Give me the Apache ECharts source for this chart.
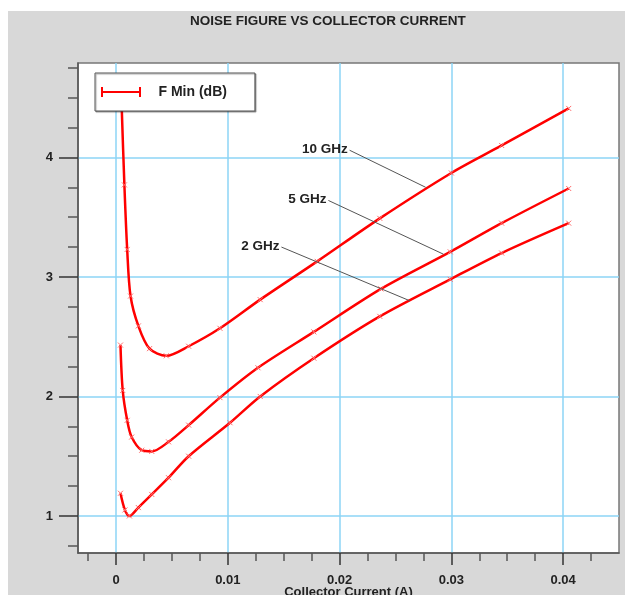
<!DOCTYPE html>
<html>
<head>
<meta charset="utf-8">
<script src="https://cdn.jsdelivr.net/npm/echarts@6/dist/echarts.min.js"></script>
<style>
  html, body { margin: 0; padding: 0; background: #ffffff; }
  #panel { position: absolute; left: 8px; top: 11px; width: 617px; height: 584px; background: #d8d8d8; }
  #chart { position: absolute; left: 0; top: 0; width: 625px; height: 595px; }
</style>
</head>
<body>
<div id="panel"></div>
<div id="chart"></div>
<script>
// Minimum noise figure (dB) against collector current (A), one curve per frequency
const current10GHz = [0.0005, 0.00075, 0.001, 0.0013, 0.002, 0.003, 0.0045, 0.0065, 0.0093, 0.0129, 0.018, 0.0236, 0.030, 0.0345, 0.0405];
const fmin10GHz    = [4.45,   3.77,    3.23,  2.84,   2.59,  2.40,  2.34,   2.42,   2.57,   2.81,   3.13,  3.49,   3.87,  4.10,   4.41];

const current5GHz  = [0.0004, 0.0006, 0.001, 0.0014, 0.0023, 0.0032, 0.0047, 0.0065, 0.0093, 0.0127, 0.0177, 0.0237, 0.0299, 0.0345, 0.0405];
const fmin5GHz     = [2.43,   2.05,   1.80,  1.66,   1.55,   1.54,   1.62,   1.76,   1.99,   2.24,   2.54,   2.90,   3.21,   3.45,   3.74];

const current2GHz  = [0.0004, 0.0008, 0.0012, 0.002, 0.0032, 0.0047, 0.0065, 0.0102, 0.0129, 0.0177, 0.0236, 0.0299, 0.0345, 0.0405];
const fmin2GHz     = [1.19,   1.05,   1.00,   1.07,  1.18,   1.32,   1.50,   1.78,   2.00,   2.32,   2.67,   2.98,   3.20,   3.45];

const xTickValues = [0, 0.01, 0.02, 0.03, 0.04];
const yTickValues = [1, 2, 3, 4];

const titleText = 'NOISE FIGURE VS COLLECTOR CURRENT';
const seriesName = 'F Min (dB)';
const xAxisName = 'Collector Current (A)';

// Frequency callouts: label text, leader start (near the text) and end (on the curve)
const callouts = {
  '10 GHz': { from: [0.0209, 4.06], to: [0.0277, 3.75] },
  '5 GHz':  { from: [0.0190, 3.64], to: [0.0293, 3.19] },
  '2 GHz':  { from: [0.0148, 3.25], to: [0.0263, 2.80] }
};

const FONT = 'Liberation Sans, Arial, sans-serif';
const RED = '#ff0000';
const GRID_BLUE = '#8cd5f6';

function pairs(xs, ys) { return xs.map((x, i) => [x, ys[i]]); }

function leader(label) {
  const c = callouts[label];
  return {
    silent: true,
    symbol: 'none',
    animation: false,
    lineStyle: { color: '#555555', width: 1, type: 'solid' },
    label: {
      show: true,
      position: 'start',
      distance: 2,
      formatter: label,
      color: '#222222',
      fontFamily: FONT,
      fontWeight: 'bold',
      fontSize: 13.5,
      padding: [0, 0, -6, 0]
    },
    emphasis: { disabled: true },
    data: [[{ coord: c.from, name: label }, { coord: c.to }]]
  };
}

function curve(xs, ys, label) {
  return {
    name: seriesName,
    type: 'line',
    data: pairs(xs, ys),
    smooth: 0.3,
    symbol: 'path://M0,0L8,8M8,0L0,8',
    symbolSize: 5,
    showSymbol: true,
    itemStyle: { color: 'rgba(0,0,0,0)', borderColor: '#ff6a6a', borderWidth: 1 },
    lineStyle: { color: RED, width: 2.5 },
    emphasis: { disabled: true },
    markLine: leader(label),
    z: 3
  };
}

const chart = echarts.init(document.getElementById('chart'), null, { renderer: 'canvas' });

chart.setOption({
  animation: false,
  backgroundColor: 'transparent',
  title: {
    text: titleText,
    left: 190,
    top: 14,
    padding: 0,
    textStyle: { fontFamily: FONT, fontWeight: 'bold', fontSize: 13.5, color: '#222222' }
  },
  legend: {
    data: [seriesName],
    left: 95,
    top: 73,
    orient: 'vertical',
    padding: [12, 28, 12, 6],
    backgroundColor: '#ffffff',
    borderColor: '#555555',
    borderWidth: 1,
    shadowColor: 'rgba(0,0,0,0.35)',
    shadowOffsetX: 1,
    shadowOffsetY: 1,
    shadowBlur: 1,
    itemWidth: 41,
    itemHeight: 10,
    icon: 'path://M0,0h2v10h-2z M2,4h36v2h-36z M38,0h2v10h-2z',
    itemStyle: { color: RED, borderWidth: 0 },
    selectedMode: false,
    textStyle: { fontFamily: FONT, fontWeight: 'bold', fontSize: 14, color: '#222222', padding: [0, 0, 0, 12] }
  },
  grid: {
    left: 78,
    top: 63,
    right: 6,
    bottom: 42,
    show: true,
    backgroundColor: '#ffffff',
    borderColor: '#777777',
    borderWidth: 1.5,
    containLabel: false,
    outerBoundsMode: 'none'
  },
  xAxis: {
    type: 'value',
    min: -0.0034,
    max: 0.045,
    splitNumber: 5,
    name: xAxisName,
    nameLocation: 'middle',
    nameGap: 33,
    nameMoveOverlap: false,
    nameTextStyle: { fontFamily: FONT, fontWeight: 'bold', fontSize: 13, color: '#222222' },
    axisLine: { show: true, onZero: false, lineStyle: { color: '#555555', width: 1.5 } },
    axisTick: { show: true, inside: false, length: 12, customValues: xTickValues, lineStyle: { color: '#333333', width: 1.5 } },
    minorTick: { show: true, splitNumber: 4, length: 8, lineStyle: { color: '#555555', width: 1.5 } },
    axisLabel: {
      customValues: xTickValues,
      margin: 21,
      formatter: v => String(+v.toFixed(4)),
      fontFamily: FONT, fontWeight: 'bold', fontSize: 13, color: '#222222'
    },
    splitLine: { show: true, lineStyle: { color: GRID_BLUE, width: 1.5 } },
    minorSplitLine: { show: false }
  },
  yAxis: {
    type: 'value',
    min: 0.69,
    max: 4.79,
    splitNumber: 4,
    axisLine: { show: true, onZero: false, lineStyle: { color: '#555555', width: 1.5 } },
    axisTick: { show: true, inside: false, length: 19, customValues: yTickValues, lineStyle: { color: '#333333', width: 1.5 } },
    minorTick: { show: true, splitNumber: 4, length: 10, lineStyle: { color: '#555555', width: 1.5 } },
    axisLabel: {
      customValues: yTickValues,
      margin: 25,
      formatter: v => String(v),
      fontFamily: FONT, fontWeight: 'bold', fontSize: 13, color: '#222222'
    },
    splitLine: { show: true, lineStyle: { color: GRID_BLUE, width: 1.5 } },
    minorSplitLine: { show: false }
  },
  series: [
    curve(current10GHz, fmin10GHz, '10 GHz'),
    curve(current5GHz, fmin5GHz, '5 GHz'),
    curve(current2GHz, fmin2GHz, '2 GHz')
  ]
});
</script>
</body>
</html>
